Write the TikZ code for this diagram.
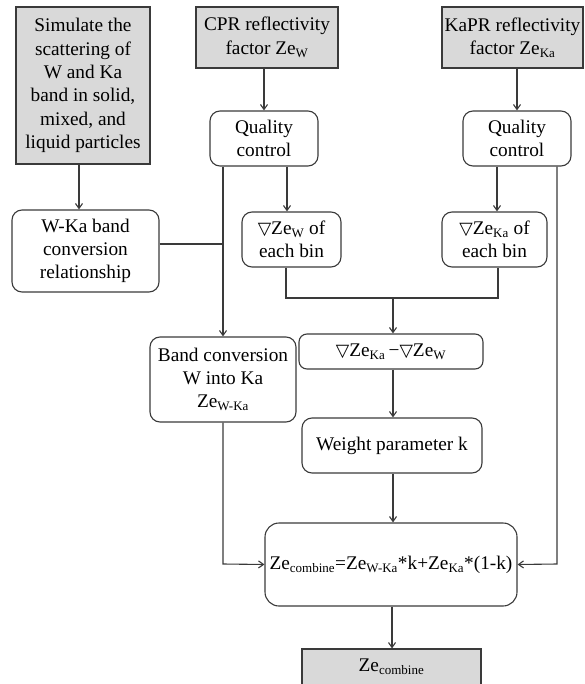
\documentclass[tikz,border=0pt]{standalone}
\usepackage{fontspec}
\setmainfont{Liberation Serif}
\newfontfamily\symfont{DejaVu Sans}
\usetikzlibrary{arrows.meta}
\definecolor{boxgray}{HTML}{D9D9D9}
\definecolor{linegray}{HTML}{3A3A3A}
\newcommand{\tri}{{\symfont\fontsize{17.5}{17.5}\selectfont ▽}}
\newcommand{\sbs}[1]{\textsubscript{\fontsize{13}{13}\selectfont #1}}
\begin{document}
\begin{tikzpicture}[x=1pt,y=-1pt,
  font=\fontsize{19.3}{23.3}\selectfont,
  base/.style={draw=linegray, line width=1.1pt, align=center, inner sep=0pt, text=black},
  grey/.style={base, fill=boxgray},
  rbox/.style={base, rounded corners=10pt},
  conn/.style={draw=linegray, line width=1.1pt},
  arr/.style={conn, -{Straight Barb[length=5pt,width=7pt]}}]
\useasboundingbox (0,0) rectangle (584,684);
\node[grey, minimum width=134pt, minimum height=157pt] (sim) at (83,85.5)
  {Simulate the\\scattering of\\W and Ka\\band in solid,\\mixed, and\\liquid particles};
\node[grey, minimum width=142pt, minimum height=61pt] (cpr) at (267,37.5)
  {CPR reflectivity\\factor Ze\sbs{W}};
\node[grey, minimum width=141pt, minimum height=61pt] (kapr) at (512.5,37.5)
  {KaPR reflectivity\\factor Ze\sbs{Ka}};
\node[rbox, minimum width=108pt, minimum height=55pt] (qc1) at (264,138.5) {Quality\\control};
\node[rbox, minimum width=108pt, minimum height=55pt] (qc2) at (517,138.5) {Quality\\control};
\node[rbox, minimum width=99pt, minimum height=55pt] (dw) at (291.5,239.5) {\tri Ze\sbs{W} of\\each bin};
\node[rbox, minimum width=105pt, minimum height=55pt] (dka) at (494.5,239.5) {\tri Ze\sbs{Ka} of\\each bin};
\node[rbox, minimum width=147pt, minimum height=82pt] (wka) at (85.5,251)
  {W-Ka band\\conversion\\relationship};
\node[rbox, minimum width=146pt, minimum height=85pt] (band) at (223,379.5)
  {Band conversion\\W into Ka\\Ze\sbs{W-Ka}};
\node[rbox, rounded corners=8pt, minimum width=184pt, minimum height=35pt] (diff) at (391,351.5)
  {\tri Ze\sbs{Ka}\,−\tri Ze\sbs{W}};
\node[rbox, minimum width=180pt, minimum height=55pt] (weight) at (392,445.5) {Weight parameter k};
\node[rbox, rounded corners=14pt, minimum width=252pt, minimum height=83pt] (comb) at (391,564.5)
  {Ze\sbs{combine}=Ze\sbs{W-Ka}*k+Ze\sbs{Ka}*(1-k)};
\node[grey, minimum width=179pt, minimum height=36pt] (final) at (391.5,667) {Ze\sbs{combine}};

% junction coordinates
\coordinate (jl) at (223,244);
\coordinate (jm) at (393,298);
\coordinate (lb) at (223,564);
\coordinate (rb) at (557,564);

\draw[arr] (sim.south -| 79,0) -- (wka.north -| 79,0);
\draw[arr] (cpr.south -| 264,0) -- (qc1.north -| 264,0);
\draw[arr] (kapr.south -| 517,0) -- (qc2.north -| 517,0);
\draw[arr] (qc1.south -| 287,0) -- (dw.north -| 287,0);
\draw[arr] (qc2.south -| 497,0) -- (dka.north -| 497,0);
\draw[conn] (wka.east |- jl) -- (jl);
\draw[arr] (qc1.south -| jl) -- (band.north -| jl);
\draw[conn] (dw.south -| 286,0) |- (jm) -| (dka.south -| 498,0);
\draw[arr] (jm) -- (diff.north -| jm);
\draw[arr] (diff.south -| jm) -- (weight.north -| jm);
\draw[arr] (weight.south -| jm) -- (comb.north -| jm);
\draw[arr] (band.south -| lb) -- (lb) -- (comb.west);
\draw[arr] (qc2.south -| rb) -- (rb) -- (comb.east);
\draw[arr] (comb.south -| 392,0) -- (final.north -| 392,0);
\end{tikzpicture}
\end{document}
